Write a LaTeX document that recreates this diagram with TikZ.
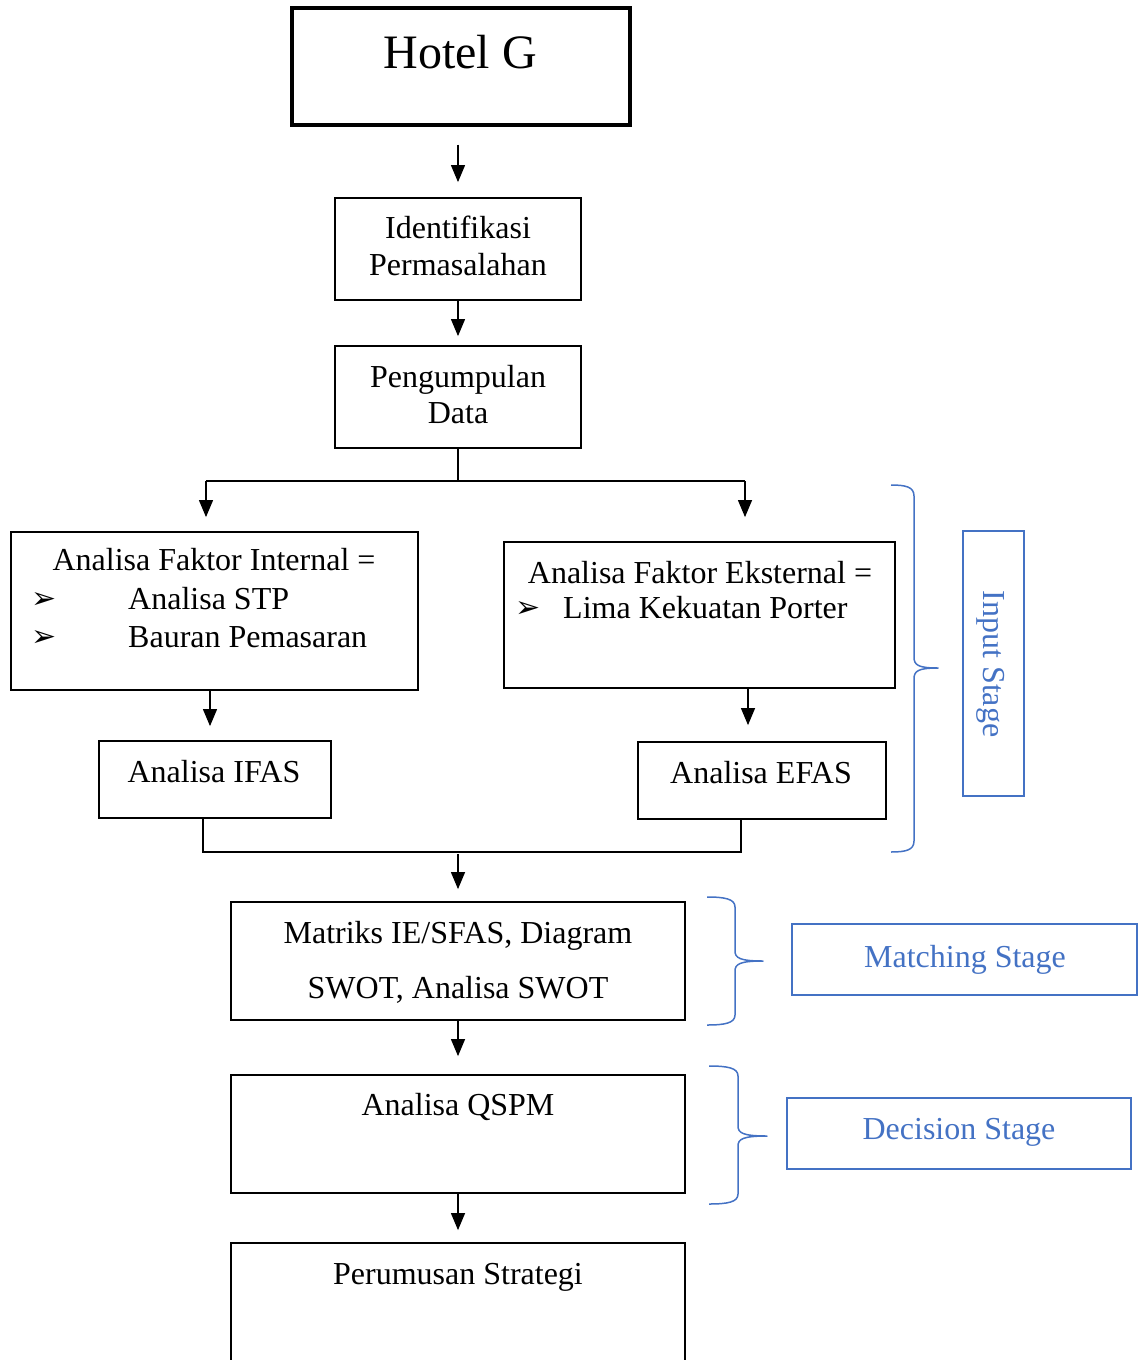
\documentclass[tikz,border=0pt]{standalone}
\usepackage{fontspec}
\setmainfont{Liberation Serif}
\newfontfamily\symfont{DejaVu Sans}
\usetikzlibrary{arrows.meta}
\definecolor{stageblue}{HTML}{4472C4}
\begin{document}
\begin{tikzpicture}[x=1pt,y=-1pt,
  box/.style={draw=black, line width=1.8pt, inner sep=0pt},
  txt/.style={inner sep=0pt, anchor=base, font=\fontsize{32}{37}\selectfont},
  txtw/.style={inner sep=0pt, anchor=base west, font=\fontsize{32}{37}\selectfont},
  bul/.style={inner sep=0pt, anchor=base west, font=\symfont\fontsize{30}{34}\selectfont},
  conn/.style={line width=1.2pt, draw=black},
  arr/.style={conn, -{Triangle[length=17pt,width=14pt]}},
  stage/.style={draw=stageblue, line width=1.8pt, inner sep=0pt},
  stagetxt/.style={text=stageblue, inner sep=0pt, font=\fontsize{32}{37}\selectfont},
  bracestyle/.style={draw=stageblue, line width=1.5pt, line join=round}
]
\useasboundingbox (0,0) rectangle (1146,1360);

% boxes
\node[box, line width=3.3pt, minimum width=338pt, minimum height=117pt] (hotel) at (461,66.5) {};
\node[box, minimum width=246pt, minimum height=102pt] (ident) at (458,249) {};
\node[box, minimum width=246pt, minimum height=102pt] (peng) at (458,397) {};
\node[box, minimum width=407pt, minimum height=158pt] (int) at (214.5,611) {};
\node[box, minimum width=391pt, minimum height=146pt] (ext) at (699.5,615) {};
\node[box, minimum width=232pt, minimum height=77pt] (ifas) at (215,779.5) {};
\node[box, minimum width=248pt, minimum height=77pt] (efas) at (762,780.5) {};
\node[box, minimum width=454pt, minimum height=118pt] (mat) at (458,961) {};
\node[box, minimum width=454pt, minimum height=118pt] (qspm) at (458,1134) {};
\node[box, minimum width=454pt, minimum height=150pt] (per) at (458,1318) {};

% texts
\node[txt, font=\fontsize{48}{56}\selectfont] (hotel-t) at (460,68) {Hotel G};
\node[txt] (ident-t1) at (458,238) {Identifikasi};
\node[txt] (ident-t2) at (458,275) {Permasalahan};
\node[txt] (peng-t1) at (458,387) {Pengumpulan};
\node[txt] (peng-t2) at (458,423) {Data};
\node[txt] (int-t1) at (214,570) {Analisa Faktor Internal =};
\node[bul] (int-b1) at (31,608) {➢};
\node[txtw] (int-t2) at (128,609) {Analisa STP};
\node[bul] (int-b2) at (31,646) {➢};
\node[txtw] (int-t3) at (128,647) {Bauran Pemasaran};
\node[txt] (ext-t1) at (700,583) {Analisa Faktor Eksternal =};
\node[bul] (ext-b1) at (515,617) {➢};
\node[txtw] (ext-t2) at (563,618) {Lima Kekuatan Porter};
\node[txt] (ifas-t) at (214,782) {Analisa IFAS};
\node[txt] (efas-t) at (761,783) {Analisa EFAS};
\node[txt] (mat-t1) at (458,943) {Matriks IE/SFAS, Diagram};
\node[txt] (mat-t2) at (458,998) {SWOT, Analisa SWOT};
\node[txt] (qspm-t) at (458,1115) {Analisa QSPM};
\node[txt] (per-t) at (458,1284) {Perumusan Strategi};

% stage boxes
\node[stage, minimum width=61pt, minimum height=265pt] (inbox) at (993.5,663.5) {};
\node[stagetxt, rotate=-90] (inbox-t) at (991,664) {Input Stage};
\node[stage, minimum width=345pt, minimum height=71pt] (matchbox) at (964.5,959.5) {};
\node[stagetxt, anchor=base] (matchbox-t) at (965,967) {Matching Stage};
\node[stage, minimum width=344pt, minimum height=71pt] (decbox) at (959,1133.5) {};
\node[stagetxt, anchor=base] (decbox-t) at (959,1139) {Decision Stage};

% braces
\draw[bracestyle] (891,485) .. controls (906,485) and (914,487) .. (914,496) -- (914,657)
  .. controls (914,665) and (918,668) .. (938,668)
  .. controls (918,668) and (914,671) .. (914,679) -- (914,841)
  .. controls (914,850) and (906,852) .. (891,852);
\draw[bracestyle] (707,897) .. controls (725,897) and (735,899) .. (735,907) -- (735,951)
  .. controls (735,958) and (740,961) .. (763,961)
  .. controls (740,961) and (735,964) .. (735,971) -- (735,1015)
  .. controls (735,1023) and (725,1025) .. (707,1025);
\draw[bracestyle] (709,1066) .. controls (728,1066) and (738,1068) .. (738,1076) -- (738,1126)
  .. controls (738,1133) and (743,1136) .. (767,1136)
  .. controls (743,1136) and (738,1139) .. (738,1146) -- (738,1194)
  .. controls (738,1202) and (728,1204) .. (709,1204);

% connectors
\draw[arr, shorten <=18pt, shorten >=15pt] (ident.north |- hotel.south) -- (ident.north);
\draw[arr, shorten >=9pt] (ident) -- (peng);
\coordinate (jL) at (206,481);
\coordinate (jR) at (745,481);
\draw[conn] (peng.south) -- (peng.south |- jL);
\draw[conn] (jL) -- (jR);
\draw[arr, shorten >=14pt] (jL) -- (jL |- int.north);
\draw[arr, shorten >=24pt] (jR) -- (jR |- ext.north);
\draw[arr, shorten >=14pt] ([xshift=-4.5pt]int.south) -- ([xshift=-4.5pt]int.south |- ifas.north);
\draw[arr, shorten >=16pt] ([xshift=48.5pt]ext.south) -- ([xshift=48.5pt]ext.south |- efas.north);
\coordinate (mL) at (203,852);
\coordinate (mR) at (741,852);
\draw[conn] (ifas.south -| mL) -- (mL) -- (mR) -- (efas.south -| mR);
\draw[arr, shorten <=2pt, shorten >=12pt] (mat.north |- mL) -- (mat.north);
\draw[arr, shorten >=18pt] (mat) -- (qspm);
\draw[arr, shorten >=12pt] (qspm) -- (per);
\end{tikzpicture}
\end{document}
